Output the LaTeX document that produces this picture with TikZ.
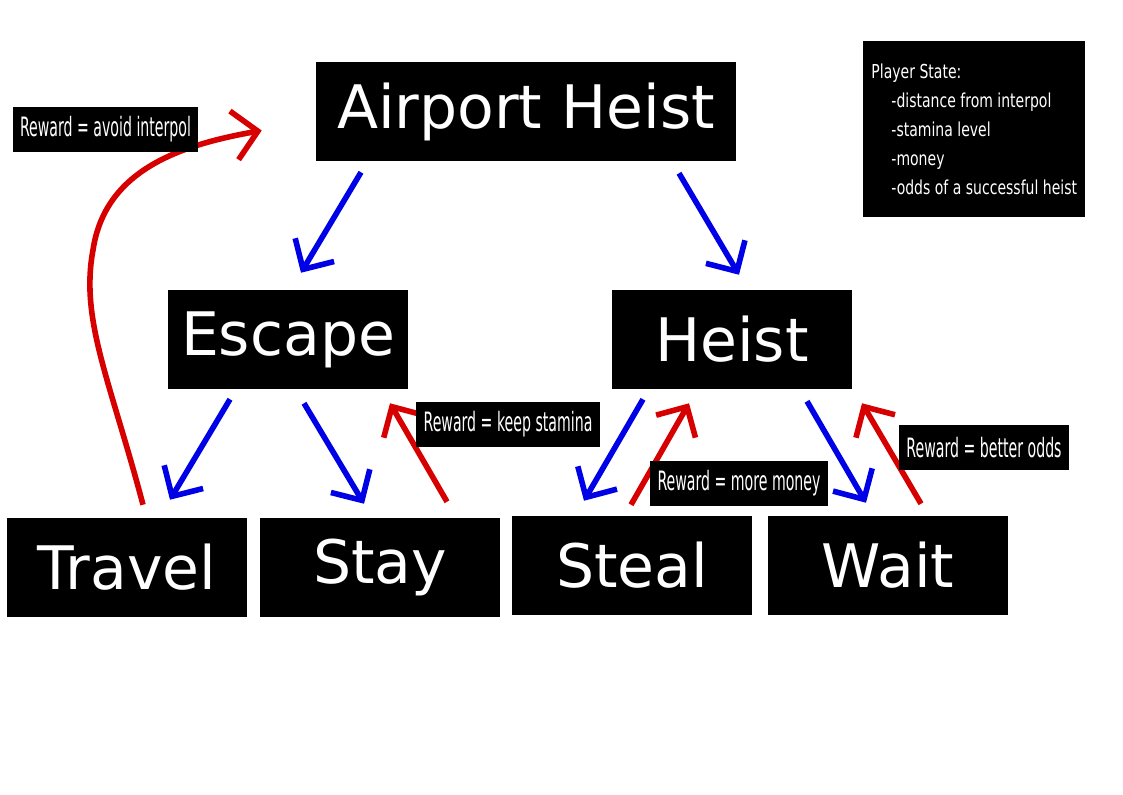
\documentclass[tikz,border=0pt]{standalone}
\usepackage{fontspec}
\setmainfont{DejaVu Sans}
\newfontfamily\tagfont{DejaVu Sans}[FakeStretch=0.53]
\newfontfamily\notefont{DejaVu Sans}[FakeStretch=0.73]
\usetikzlibrary{arrows.meta,calc}
\definecolor{goblue}{RGB}{0,0,230}
\definecolor{backred}{RGB}{215,0,0}

\begin{document}
\begin{tikzpicture}[x=0.75pt, y=-0.75pt,
    action/.style={fill=black, text=white, inner sep=0pt, minimum width=180pt, minimum height=74.25pt, font=\fontsize{45}{45}\selectfont},
    tag/.style={fill=black, text=white, inner xsep=5.5pt, inner ysep=0pt, minimum height=33.75pt, font=\tagfont\fontsize{20}{20}\selectfont},
    go/.style={draw=goblue, line width=4.2pt, -{Straight Barb[length=17pt,width=34pt]}},
    back/.style={go, draw=backred}]

   \useasboundingbox (0,0) rectangle (1123,794);

   \node [action, minimum width=315pt] (air) at (526,111.5) {Airport Heist};
   \foreach \n/\x/\y/\t in {esc/288/339.5/Escape, hst/732/339.5/Heist, trv/127/567.5/Travel, sty/380/567.5/Stay, stl/632/565.5/Steal, wai/888/565.5/Wait}
     \node [action] (\n) at (\x,\y) {\t};

    \foreach \a/\ax/\ay/\b/\bx/\by in {air/-165/11/esc/13/-17, air/153/12/hst/7/-15, esc/-58/10/trv/43/-18, esc/16/14/sty/-16/-14, hst/-89/10/stl/-48/-15, hst/75/12/wai/-22/-13}
        \draw [go] ($(\a.south)+(\ax,\ay)$) -- ($(\b.north)+(\bx,\by)$);
    \foreach \a/\ax/\ay/\b/\bx/\by in {sty/67/-16/esc/102/14, stl/-1/-11/hst/-43/14, wai/33/-12/hst/130/14}
        \draw [back] ($(\a.north)+(\ax,\ay)$) -- ($(\b.south)+(\bx,\by)$);
    \draw [back, -{Straight Barb[length=18pt,width=37pt]}] ($(trv.north)+(16,-13)$) .. controls (110,380) and (80,320) .. (93,250)
        .. controls (105,170) and (180,145) .. ($(air.west)+(-54,19)$);

    \foreach \n/\x/\y/\t in {tagtrv/105.5/129.5/avoid interpol, tagsty/508/424/keep stamina, tagstl/739/483.5/more money, tagwai/984/447.5/better odds}
        \node [tag] (\n) at (\x,\y) {Reward = \t};

   \node [fill=black, text=white, anchor=north west, minimum width=166.5pt, minimum height=132pt, align=left,
          font=\notefont\fontsize{14.4}{21.75}\selectfont] (player) at (863,41)
        {Player State:\\ \hspace*{15pt}-distance from interpol\\ \hspace*{15pt}-stamina level\\
         \hspace*{15pt}-money\\ \hspace*{15pt}-odds of a successful heist};

\end{tikzpicture}
\end{document}
